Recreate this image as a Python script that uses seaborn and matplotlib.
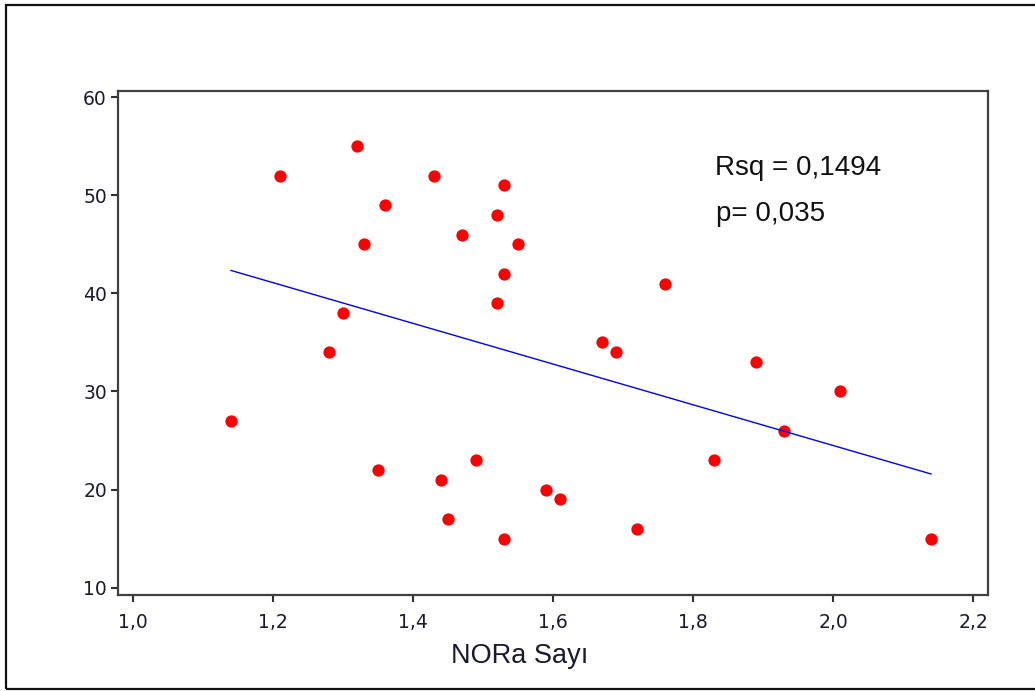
#!/usr/bin/env python3

import matplotlib

matplotlib.use("Agg")
import matplotlib.pylab as plt
import matplotlib.patches as patches
from matplotlib.ticker import FuncFormatter
import pandas as pd
import seaborn as sns

# NORa counts vs. score
nora = [
    1.14, 1.21, 1.28, 1.30, 1.32, 1.33, 1.35, 1.36, 1.43, 1.44,
    1.45, 1.47, 1.49, 1.52, 1.52, 1.53, 1.53, 1.53, 1.55, 1.59,
    1.61, 1.67, 1.69, 1.72, 1.76, 1.83, 1.89, 1.93, 2.01, 2.14,
]
score = [
    27, 52, 34, 38, 55, 45, 22, 49, 52, 21,
    17, 46, 23, 48, 39, 51, 42, 15, 45, 20,
    19, 35, 34, 16, 41, 23, 33, 26, 30, 15,
]
x_ticks = [1.0, 1.2, 1.4, 1.6, 1.8, 2.0, 2.2]
y_ticks = [10, 20, 30, 40, 50, 60]
stats_lines = ["Rsq = 0,1494", "p= 0,035"]
x_label = "NORa Sayı"

df = pd.DataFrame({"nora": nora, "score": score})

sns.set_theme(style="ticks")
plt.rcParams["font.family"] = ["DejaVu Sans"]

fig = plt.figure(figsize=(10.35, 6.91), dpi=100)
ax = fig.add_axes([0.114, 0.139, 0.8406, 0.7294])

sns.regplot(
    data=df,
    x="nora",
    y="score",
    ax=ax,
    ci=None,
    truncate=True,
    scatter_kws={"color": "#ff0000", "s": 78, "linewidths": 0, "alpha": 1},
    line_kws={"color": "#0000ff", "linewidth": 1.0},
)

ax.set_xlim(0.979, 2.221)
ax.set_ylim(9.25, 60.64)
ax.set_xticks(x_ticks)
ax.set_yticks(y_ticks)
ax.xaxis.set_major_formatter(FuncFormatter(lambda v, _: f"{v:.1f}".replace(".", ",")))
ax.yaxis.set_major_formatter(FuncFormatter(lambda v, _: f"{int(v)}"))
ax.tick_params(axis="both", direction="out", length=5, width=1.5, color="#303030",
               labelsize=13.5, labelcolor="#1a1a2e", pad=3)
ax.tick_params(axis="x", pad=8)
for spine in ax.spines.values():
    spine.set_visible(True)
    spine.set_color("#404040")
    spine.set_linewidth(1.6)
ax.set_xlabel("")
ax.set_ylabel("")

# Regression stats in the upper right
ax.text(1.831, 52.1, stats_lines[0], fontsize=20, family="Liberation Sans",
        color="#111111", va="baseline", ha="left")
ax.text(1.832, 47.4, stats_lines[1], fontsize=20, family="Liberation Sans",
        color="#111111", va="baseline", ha="left")

fig.text(520 / 1035, 1 - 663 / 691, x_label, fontsize=19.5, family="Liberation Sans",
         color="#1a1a2e", ha="center", va="baseline")

# Outer frame around the whole chart
fig.patches.append(
    patches.Rectangle(
        (6 / 1035, 1 - 689 / 691), 1.1, (689 - 5) / 691,
        transform=fig.transFigure, fill=False, edgecolor="#111111", linewidth=1.6,
    )
)

plt.savefig("out.png", dpi=100)
